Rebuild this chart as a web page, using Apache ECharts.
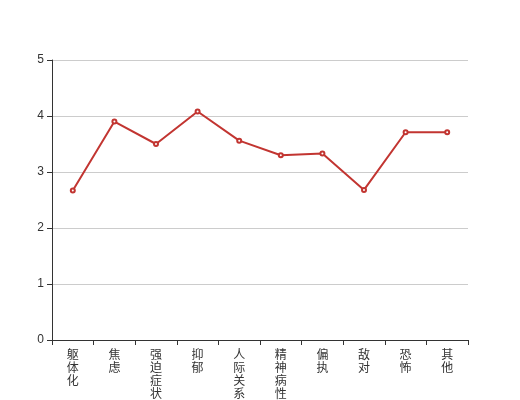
<!DOCTYPE html>
<html>
<head>
<meta charset="utf-8">
<script src="https://cdn.jsdelivr.net/npm/echarts@6/dist/echarts.min.js"></script>
<style>html,body{margin:0;padding:0;background:#fff}#main{width:520px;height:400px}</style>
</head>
<body>
<div id="main"></div>
<script>
const categories = ['躯体化','焦虑','强迫症状','抑郁','人际关系敏感','精神病性','偏执','敌对','恐怖','其他'];
const values = [2.67, 3.90, 3.50, 4.08, 3.56, 3.30, 3.33, 2.68, 3.71, 3.71];

const chart = echarts.init(document.getElementById('main'));
chart.setOption({
  animation: false,
  grid: { left: 52, right: 52, top: 60, bottom: 60, containLabel: false, outerBoundsMode: 'none' },
  xAxis: {
    type: 'category',
    data: categories,
    boundaryGap: true,
    axisLine: { lineStyle: { color: '#333', width: 1 } },
    axisTick: { show: true, alignWithLabel: false, lineStyle: { color: '#333' } },
    axisLabel: {
      interval: 0,
      color: '#333',
      fontSize: 12,
      lineHeight: 13,
      fontFamily: '"Noto Sans CJK SC", sans-serif',
      formatter: v => v.split('').join('\n')
    }
  },
  yAxis: {
    type: 'value',
    min: 0, max: 5, interval: 1,
    axisLine: { show: true, lineStyle: { color: '#333' } },
    axisTick: { show: true, lineStyle: { color: '#333' } },
    axisLabel: { color: '#333', fontSize: 12, fontFamily: 'sans-serif' },
    splitLine: { lineStyle: { color: '#ccc' } }
  },
  series: [{
    type: 'line',
    data: values,
    symbol: 'emptyCircle',
    symbolSize: 4,
    itemStyle: { color: '#c23531' },
    lineStyle: { color: '#c23531', width: 2 }
  }]
});
</script>
</body>
</html>
